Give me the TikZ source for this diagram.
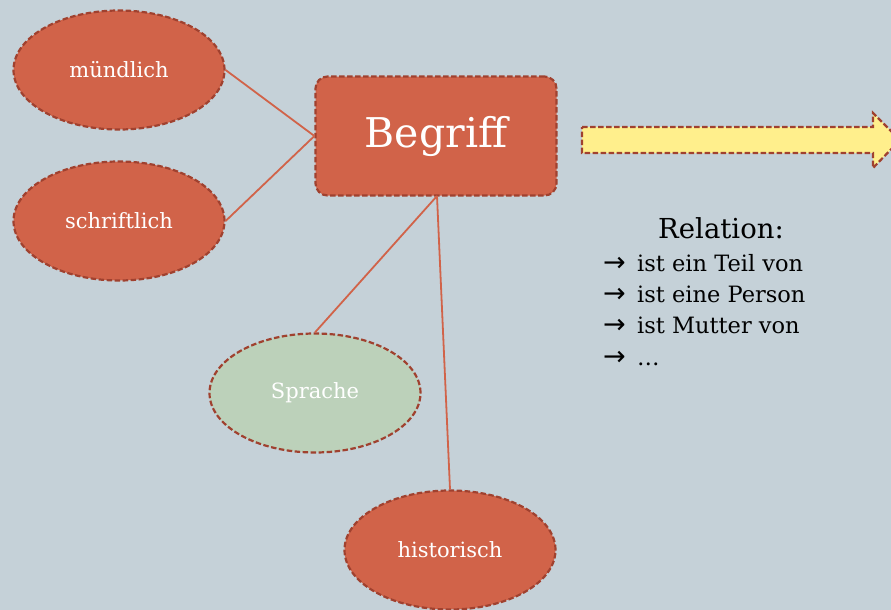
\documentclass[tikz,border=0pt]{standalone}
\usepackage{fontspec}
\setmainfont{DejaVu Serif}
\newfontfamily\symfont{DejaVu Sans}
\usetikzlibrary{shapes.geometric}
\definecolor{bgcol}{HTML}{C5D1D8}
\definecolor{rust}{HTML}{D16349}
\definecolor{rustedge}{HTML}{A0412F}
\definecolor{sage}{HTML}{BCD1BA}
\definecolor{butter}{HTML}{FFEF8C}
\tikzset{
  dashedge/.style={draw=rustedge, line width=2.2pt, dash pattern=on 5.5pt off 2.5pt},
  bubble/.style={ellipse, dashedge, fill=rust,
    minimum width=211pt, minimum height=119pt, inner sep=0pt,
    text=white, font=\fontsize{21}{24}\selectfont},
  keybox/.style={rectangle, rounded corners=12pt, dashedge,
    fill=rust, minimum width=241pt, minimum height=119pt, inner sep=0pt,
    text=white, font=\fontsize{41}{48}\selectfont},
  link/.style={draw=rust, line width=1.8pt},
}
\newcommand{\relarrow}{\makebox[34pt][l]{\symfont\fontsize{27}{27}\selectfont →}}
\begin{document}
\begin{tikzpicture}[x=1pt,y=-1pt]
  \fill[bgcol] (0,0) rectangle (891,610);
  \useasboundingbox (0,0) rectangle (891,610);
  \begin{scope}
  \clip (0,0) rectangle (891,610);

  \node[keybox] (begriff) at (436,136) {Begriff};
  \node[bubble] (muendlich) at (119,70) {mündlich};
  \node[bubble] (schriftlich) at (119,221) {schriftlich};
  \node[bubble, fill=sage] (sprache) at (315,393) {Sprache};
  \node[bubble] (historisch) at (450,550) {historisch};

  \coordinate (bbottom) at (437,196);
  \path[link] (muendlich.east) -- (begriff.west);
  \path[link] (schriftlich.east) -- (begriff.west);
  \path[link] (bbottom) -- (sprache.north);
  \path[link] (bbottom) -- (historisch.north);

  % broad relation arrow, running off the right edge
  \draw[dashedge, fill=butter]
    (582,127) -- (873,127) -- (873,113) -- (900,140) -- (873,168) -- (873,153) -- (582,153) -- cycle;
  \end{scope}

  \node[font=\fontsize{27.5}{32}\selectfont] (reltitle) at (721,228) {Relation:};
  \node[anchor=north west, align=left, inner sep=0pt, font=\fontsize{22.5}{31.3}\selectfont] (rellist) at (603,254)
    {\relarrow ist ein Teil von\\
     \relarrow ist eine Person\\
     \relarrow ist Mutter von\\
     \relarrow \dots};
\end{tikzpicture}
\end{document}
